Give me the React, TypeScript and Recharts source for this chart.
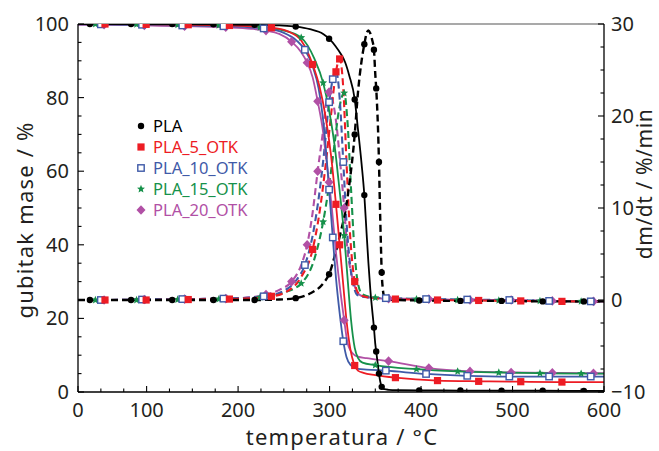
import React from 'react';
import { ComposedChart, Line, XAxis, YAxis, ReferenceLine } from 'recharts';

// tick positions (major + minor); the x axis starts at 25 but is labelled "0" there
const xTicks = [25, 50, 75, 100, 125, 150, 175, 200, 225, 250, 275, 300, 325, 350, 375, 400, 425, 450, 475, 500, 525, 550, 575, 600];
const xLabelAt = [25, 100, 200, 300, 400, 500, 600];
const xLabelText = ['0', '100', '200', '300', '400', '500', '600'];
const massTicks = [0, 5, 10, 15, 20, 25, 30, 35, 40, 45, 50, 55, 60, 65, 70, 75, 80, 85, 90, 95, 100];
const rateTicks = [-10, -7.5, -5, -2.5, 0, 2.5, 5, 7.5, 10, 12.5, 15, 17.5, 20, 22.5, 25, 27.5, 30];

// PLA
const plaT = [25, 38, 83, 128, 173, 218, 245, 263, 278.5, 293, 299.5, 307, 312, 317, 321.5, 327.5, 331, 335, 338, 340.5, 342.5, 344.5, 346.5, 348.5, 350, 351, 352, 353, 354, 355, 356, 357, 358, 360, 364.5, 374, 398, 443, 488, 533, 578, 600];
const plaTG = [100, 100, 100, 100, 99.9, 99.8, 99.6, 99.3, 98.6, 97.3, 96, 93.8, 92, 89.6, 86, 79.5, 71.5, 62, 53.5, 43, 35, 28, 22.5, 17.5, 13, 11, 9, 7, 5, 3.4, 2.2, 1.4, 1, 0.75, 0.6, 0.5, 0.45, 0.4, 0.35, 0.35, 0.3, 0.3];
const plaDTG = [0, 0, 0, 0, 0, 0, 0.05, 0.2, 0.7, 1.8, 2.8, 5.3, 7.3, 9.5, 12.5, 18, 22.5, 26, 27.8, 29, 29.3, 29, 28.3, 27.2, 24.5, 23, 21, 18.5, 15, 10.5, 6.5, 3, 1.4, 0.3, 0.05, 0, -0.05, -0.1, -0.1, -0.15, -0.15, -0.15];
const plaMarks = [38, 83, 128, 173, 218, 263, 299.5, 327.5, 338, 348.5, 351, 354, 357, 398, 443, 488, 533, 578];

// PLA_5_OTK
const r5T = [25, 54.5, 99.5, 145.5, 190.5, 236.5, 254.5, 269, 281.5, 289, 295.5, 301.5, 307, 311, 315, 318.5, 322.5, 327.5, 331, 337, 350, 372, 418, 463, 509, 554, 600];
const r5TG = [100, 100, 99.9, 99.8, 99.6, 99, 98, 95.5, 89, 83, 75, 64.5, 51, 40, 29, 19.5, 12, 7.2, 5.8, 5.2, 4.6, 3.9, 3.1, 2.9, 2.8, 2.7, 2.7];
const r5DTG = [0, 0, 0, 0.05, 0.1, 0.4, 1, 2.5, 5.5, 9.5, 14.5, 20, 24.8, 26.2, 23, 15, 7, 2, 0.8, 0.4, 0.2, 0.1, 0, -0.05, -0.1, -0.15, -0.15];
const r5Marks = [54.5, 99.5, 145.5, 190.5, 236.5, 281.5, 307, 311, 327.5, 372, 418, 463, 509, 554];

// PLA_10_OTK
const b10T = [25, 50, 95, 139, 184, 228, 250, 264, 273, 281.5, 288, 294, 299.5, 303.5, 307, 311, 315, 318.5, 323.5, 327.5, 331, 340.5, 361.5, 405.5, 450.5, 496.5, 540, 585.5, 600];
const b10TG = [99.9, 99.9, 99.8, 99.6, 99.4, 98.8, 97.6, 95.5, 93, 88.5, 82.5, 71.5, 55, 42, 31, 21.5, 13.8, 9.5, 7.2, 6.6, 6.3, 6.1, 5.8, 4.9, 4.4, 4.2, 4.2, 4.2, 4.2];
const b10DTG = [0, 0, 0.05, 0.1, 0.15, 0.4, 1, 2.2, 3.8, 7, 11, 16, 21.5, 24, 25, 22, 15, 8.5, 3, 1.1, 0.5, 0.3, 0.2, 0.1, 0.05, 0, -0.1, -0.15, -0.15];
const b10Marks = [50, 95, 139, 184, 228, 273, 299.5, 303.5, 315, 361.5, 405.5, 450.5, 496.5, 540, 585.5];

// PLA_15_OTK
const g15T = [25, 44, 89, 134, 179, 224, 250, 269, 283.5, 293, 299.5, 305.5, 310, 316, 319.5, 323.5, 327.5, 331, 336, 350, 395, 440, 485, 530, 575, 600];
const g15TG = [100, 100, 99.9, 99.8, 99.6, 99.1, 98.2, 96.3, 90.5, 84, 76.5, 67, 57, 42.5, 31.5, 19.5, 12, 9.3, 8, 7.3, 6.2, 5.6, 5.3, 5.1, 5, 5];
const g15DTG = [0, 0, 0, 0.05, 0.1, 0.3, 0.8, 1.8, 4.5, 8.5, 12.5, 17, 20.5, 22.5, 19.5, 12, 5, 1.8, 0.6, 0.25, 0.1, 0, -0.05, -0.1, -0.15, -0.15];
const g15Marks = [44, 89, 134, 179, 224, 269, 293, 316, 350, 395, 440, 485, 530, 575];

// PLA_20_OTK
const m20T = [25, 53.5, 97.5, 141.5, 186.5, 214.5, 230.5, 245, 258.5, 269, 275.5, 281.5, 287, 293, 296.5, 299.5, 302.5, 307, 312, 316, 319.5, 323.5, 327.5, 331, 340.5, 364.5, 408.5, 453.5, 498.5, 543.5, 588.5, 600];
const m20TG = [99.8, 99.8, 99.6, 99.4, 99.1, 98.7, 98.2, 97.3, 95.2, 92.3, 89.5, 85.5, 79, 70.5, 63, 57, 50, 38, 27, 19.5, 13.5, 11, 10, 9.6, 9.2, 8.4, 6.5, 5.6, 5.3, 5.2, 5.1, 5.1];
const m20DTG = [0, 0, 0.05, 0.1, 0.15, 0.3, 0.6, 1.1, 2, 3.8, 6, 9.5, 14, 18.5, 21.5, 22.6, 22, 19.5, 14.5, 10, 5.5, 3, 1.5, 0.7, 0.3, 0.15, 0.1, 0, 0, -0.1, -0.15, -0.15];
const m20Marks = [53.5, 97.5, 141.5, 186.5, 230.5, 258.5, 275.5, 287, 299.5, 316, 364.5, 408.5, 453.5, 498.5, 543.5, 588.5];

const FONT = '"Noto Sans", "Open Sans", sans-serif';
const INK = '#231f20';

type Shape = 'circle' | 'square' | 'open' | 'star' | 'diamond';

const samples = [
  { name: 'PLA', t: plaT, tg: plaTG, dtg: plaDTG, marks: plaMarks, color: '#000000', shape: 'circle' as Shape },
  { name: 'PLA_5_OTK', t: r5T, tg: r5TG, dtg: r5DTG, marks: r5Marks, color: '#ed1c24', shape: 'square' as Shape },
  { name: 'PLA_10_OTK', t: b10T, tg: b10TG, dtg: b10DTG, marks: b10Marks, color: '#3f5aa8', shape: 'open' as Shape },
  { name: 'PLA_15_OTK', t: g15T, tg: g15TG, dtg: g15DTG, marks: g15Marks, color: '#16914a', shape: 'star' as Shape },
  { name: 'PLA_20_OTK', t: m20T, tg: m20TG, dtg: m20DTG, marks: m20Marks, color: '#b150a5', shape: 'diamond' as Shape },
];

const rows = (t: number[], v: number[]) => t.map((x, i) => ({ t: x, v: v[i] }));

function starPoints(cx: number, cy: number, r: number) {
  const pts: string[] = [];
  for (let i = 0; i < 10; i++) {
    const rr = i % 2 === 0 ? r : r * 0.45;
    const a = -Math.PI / 2 + (i * Math.PI) / 5;
    pts.push(`${cx + rr * Math.cos(a)},${cy + rr * Math.sin(a)}`);
  }
  return pts.join(' ');
}

function Marker({ shape, color, cx, cy }: { shape: Shape; color: string; cx: number; cy: number }) {
  switch (shape) {
    case 'circle':
      return <circle cx={cx} cy={cy} r={3.2} fill={color} />;
    case 'square':
      return <rect x={cx - 3.6} y={cy - 3.6} width={7.2} height={7.2} fill={color} />;
    case 'open':
      return <rect x={cx - 3.2} y={cy - 3.2} width={6.4} height={6.4} fill="#fff" stroke={color} strokeWidth={1.4} />;
    case 'star':
      return <polygon points={starPoints(cx, cy, 4.2)} fill={color} />;
    default:
      return <polygon points={`${cx},${cy - 4.8} ${cx + 4.5},${cy} ${cx},${cy + 4.8} ${cx - 4.5},${cy}`} fill={color} />;
  }
}

const dotFor = (s: (typeof samples)[number], tag: string) => (p: any) => {
  const key = `${s.name}-${tag}-${p.index}`;
  if (p.cx == null || p.cy == null || !s.marks.includes(p.payload?.t)) return <g key={key} />;
  return (
    <g key={key}>
      <Marker shape={s.shape} color={s.color} cx={p.cx} cy={p.cy} />
    </g>
  );
};

const XTick = (p: any) => {
  const v = p.payload.value;
  const li = xLabelAt.indexOf(v);
  const major = li >= 0;
  return (
    <g>
      <line x1={p.x} x2={p.x} y1={p.y} y2={p.y - (major ? 6 : 3.5)} stroke="#000" strokeWidth={1.1} />
      {major && (
        <text x={p.x} y={p.y + 25} textAnchor="middle" fontSize={20} fontFamily={FONT} fill={INK}>
          {xLabelText[li]}
        </text>
      )}
    </g>
  );
};

const LeftTick = (p: any) => {
  const v = p.payload.value;
  const major = v % 20 === 0;
  return (
    <g>
      <line x1={p.x} x2={p.x + (major ? 6 : 3.5)} y1={p.y} y2={p.y} stroke="#000" strokeWidth={1.1} />
      {major && (
        <text x={p.x - 9} y={p.y} dy="0.35em" textAnchor="end" fontSize={20} fontFamily={FONT} fill={INK}>
          {v}
        </text>
      )}
    </g>
  );
};

const RightTick = (p: any) => {
  const v = p.payload.value;
  const major = v % 10 === 0;
  return (
    <g>
      <line x1={p.x} x2={p.x - (major ? 6 : 3.5)} y1={p.y} y2={p.y} stroke="#000" strokeWidth={1.1} />
      {major && (
        <text x={p.x + 7} y={p.y} dy="0.35em" textAnchor="start" fontSize={20} fontFamily={FONT} fill={INK}>
          {v < 0 ? `\u2212${Math.abs(v)}` : v}
        </text>
      )}
    </g>
  );
};

export default function App() {
  const order = [...samples].reverse();
  return (
    <div style={{ position: 'absolute', left: 0, top: 0, width: 659, height: 451, background: '#fff', fontFamily: FONT }}>
      <ComposedChart width={659} height={451} margin={{ top: 24, right: 0, bottom: 0, left: 0 }}>
        <XAxis
          xAxisId="x"
          dataKey="t"
          type="number"
          domain={[25, 600]}
          ticks={xTicks}
          interval={0}
          tick={XTick}
          tickLine={false}
          tickSize={0}
          tickMargin={0}
          height={59}
          axisLine={{ stroke: '#000', strokeWidth: 1.3 }}
          allowDataOverflow
        />
        <YAxis
          yAxisId="mass"
          orientation="left"
          type="number"
          domain={[0, 100]}
          ticks={massTicks}
          interval={0}
          tick={LeftTick}
          tickLine={false}
          tickSize={0}
          tickMargin={0}
          width={78}
          axisLine={{ stroke: '#000', strokeWidth: 1.3 }}
          allowDataOverflow
        />
        <YAxis
          yAxisId="rate"
          orientation="right"
          type="number"
          domain={[-10, 30]}
          ticks={rateTicks}
          interval={0}
          tick={RightTick}
          tickLine={false}
          tickSize={0}
          tickMargin={0}
          width={55}
          axisLine={{ stroke: '#000', strokeWidth: 1.3 }}
          allowDataOverflow
        />
        <ReferenceLine xAxisId="x" yAxisId="mass" y={100} stroke="#555" strokeWidth={1.2} />
        {order.map((s) => (
          <Line
            key={`${s.name}-dtg`}
            data={rows(s.t, s.dtg)}
            dataKey="v"
            xAxisId="x"
            yAxisId="rate"
            type="monotone"
            stroke={s.color}
            strokeWidth={s.name === 'PLA' ? 2.4 : 2.1}
            strokeDasharray="7 4"
            dot={dotFor(s, 'dtg')}
            activeDot={false}
            isAnimationActive={false}
          />
        ))}
        {order.map((s) => (
          <Line
            key={`${s.name}-tg`}
            data={rows(s.t, s.tg)}
            dataKey="v"
            xAxisId="x"
            yAxisId="mass"
            type="monotone"
            stroke={s.color}
            strokeWidth={1.8}
            dot={dotFor(s, 'tg')}
            activeDot={false}
            isAnimationActive={false}
          />
        ))}
      </ComposedChart>
      <svg width={659} height={451} style={{ position: 'absolute', left: 0, top: 0, pointerEvents: 'none' }}>
        {samples.map((s, i) => {
          const y = 126 + i * 21;
          return (
            <g key={s.name}>
              <Marker shape={s.shape} color={s.color} cx={141} cy={y} />
              <text x={153} y={y} dy="0.36em" fontSize={16.5} fontFamily={FONT} fill={s.color}>
                {s.name}
              </text>
            </g>
          );
        })}
        <text transform="translate(33,220) rotate(-90)" textAnchor="middle" fontSize={22} letterSpacing={1.2} fontFamily={FONT} fill={INK}>
          gubitak mase / %
        </text>
        <text x={342} y={445} textAnchor="middle" fontSize={22} letterSpacing={1.2} fontFamily={FONT} fill={INK}>
          temperatura / °C
        </text>
        <text transform="translate(652,184) rotate(-90)" textAnchor="middle" fontSize={21} letterSpacing={0.6} fontFamily={FONT} fill={INK}>
          dm/dt / %/min
        </text>
      </svg>
    </div>
  );
}
